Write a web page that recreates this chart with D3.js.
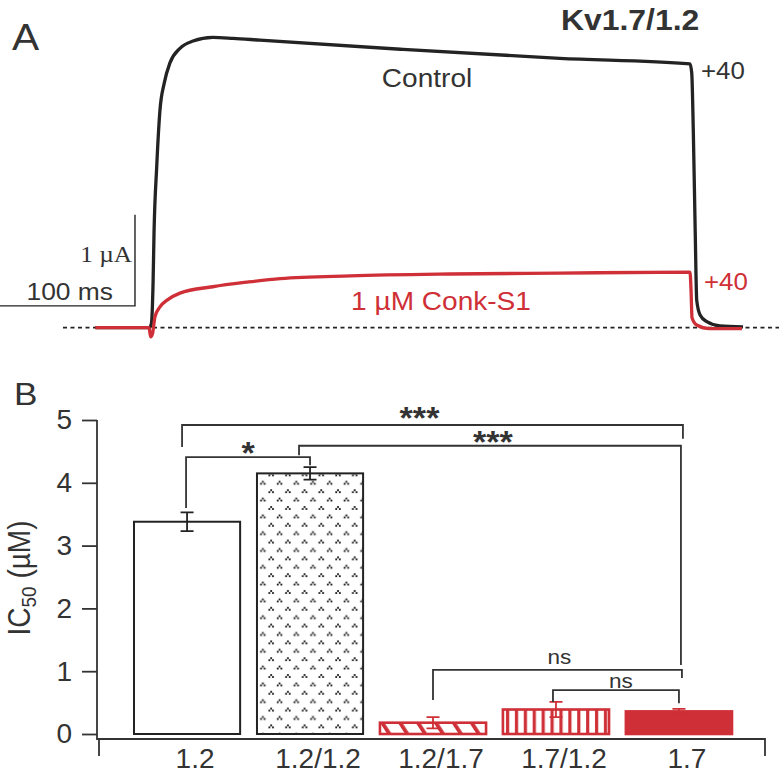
<!DOCTYPE html>
<html>
<head>
<meta charset="utf-8">
<script src="https://cdn.jsdelivr.net/npm/d3@7"></script>
<style>
    html, body { margin: 0; padding: 0; background: #fff; }
    svg { display: block; font-family: "Liberation Sans", Arial, Helvetica, sans-serif; }
</style>
</head>
<body>
<svg id="chart" width="779" height="778"></svg>
<script>
// Panel A: current traces at +40 mV, [time (ms), current (uA)]
var controlTrace = [
    [-42, 0], [-2, 0], [-0.5, 0.04], [0.8, 0.5], [1.5, 1.04], [3.5, 1.77], [5.9, 2.39],
    [9.1, 2.69], [13.3, 2.91], [20.7, 3.07], [30.4, 3.15], [45, 3.19], [60, 3.18],
    [80, 3.16], [184, 3.06], [302, 2.96], [398.5, 2.90], [399.8, 2.80], [401, 2.14],
    [402.4, 1.04], [403.5, 0.30], [406, 0.14], [411, 0.066], [420.7, 0.019], [437.8, 0.008]
];
var conkTrace = [
    [-42, 0], [-2.2, 0], [-1, -0.1], [0.3, -0.07], [2.2, 0.12], [5.9, 0.23], [10.9, 0.30],
    [20.7, 0.38], [45, 0.45], [70, 0.50], [95, 0.54], [147, 0.57], [221, 0.59],
    [302, 0.60], [398.5, 0.61], [399.3, 0.41], [400, 0.11], [403.5, 0.03], [413, -0.01],
    [437, -0.01]
];

// Panel B: IC50 of Conk-S1 for each construct (uM, mean and SEM)
var constructs = ['1.2', '1.2/1.2', '1.2/1.7', '1.7/1.2', '1.7'];
var ic50 = [3.38, 4.15, 0.18, 0.39, 0.36];
var sem = [0.15, 0.10, 0.09, 0.12, 0.04];
var yTicks = [0, 1, 2, 3, 4, 5];

// Significance comparisons [from, to, label]
var comparisons = [
    ['1.2', '1.7', '***'],
    ['1.2/1.2', '1.7', '***'],
    ['1.2', '1.2/1.2', '*'],
    ['1.2/1.7', '1.7', 'ns'],
    ['1.7/1.2', '1.7', 'ns']
];

var RED = '#cf2f37',
    INK = '#333',
    TRACE_BLACK = '#232323',
    SX = 1.1; // the figure is a bit wider than tall, text too

// bracket geometry, in uM along the y scale
var BRACKET_LAYOUT = [
    { level: 4.92, ends: [4.57, 4.70], dx: [-5, 4], labelDx: -13, labelGap: 11 },
    { level: 4.59, ends: [4.44, 1.10], dx: [-11, 2], labelDx: 3, labelGap: 8 },
    { level: 4.41, ends: [3.60, 4.28], dx: [-1, 0], labelDx: 0, labelGap: 8 },
    { level: 1.02, ends: [0.54, 0.89], dx: [0, 3], labelDx: 2, labelGap: 6 },
    { level: 0.70, ends: [0.51, 0.49], dx: [-3, 0], labelDx: 5, labelGap: 2 }
];

var svg = d3.select('#chart');

function stretchText(parent, x, y, txt) {
    return parent.append('text')
        .attr('transform', 'translate(' + x + ',' + y + ') scale(' + SX + ',1)')
        .text(txt);
}

// ---------- Panel A ----------
var xT = d3.scaleLinear().domain([0, 100]).range([152, 287]);
var yT = d3.scaleLinear().domain([0, 1]).range([327.7, 236.7]);

var panelA = svg.append('g');

stretchText(panelA, 12, 50, 'A')
    .attr('font-size', 37).attr('fill', INK);

stretchText(panelA, 561, 30, 'Kv1.7/1.2')
    .attr('font-size', 29).attr('font-weight', 'bold').attr('fill', INK);

// zero-current line
panelA.append('line')
    .attr('x1', 63).attr('x2', 779)
    .attr('y1', yT(0)).attr('y2', yT(0))
    .attr('stroke', '#222').attr('stroke-width', 1.7)
    .attr('stroke-dasharray', '4,3.5');

// scale bars: 100 ms and 1 uA
var barCorner = { x: xT(-12.6), y: yT(0.24) };
panelA.append('path')
    .attr('d', 'M' + (barCorner.x - (xT(100) - xT(0))) + ',' + barCorner.y +
        'H' + barCorner.x + 'V' + (barCorner.y - (yT(0) - yT(1))))
    .attr('fill', 'none').attr('stroke', '#222').attr('stroke-width', 1.4);

stretchText(panelA, barCorner.x - 3, 261.5, '1 \u00b5A')
    .attr('font-family', '"Liberation Serif", "Times New Roman", serif')
    .attr('font-size', 23).attr('text-anchor', 'end').attr('fill', INK);

stretchText(panelA, 113, 300, '100 ms')
    .attr('font-size', 24).attr('text-anchor', 'end').attr('fill', INK);

var traceLine = d3.line()
    .x(function(d) { return xT(d[0]); })
    .y(function(d) { return yT(d[1]); })
    .curve(d3.curveMonotoneX);

panelA.append('path')
    .datum(controlTrace)
    .attr('d', traceLine)
    .attr('fill', 'none').attr('stroke', TRACE_BLACK)
    .attr('stroke-width', 3.3).attr('stroke-linejoin', 'round');

panelA.append('path')
    .datum(conkTrace)
    .attr('d', traceLine)
    .attr('fill', 'none').attr('stroke', RED)
    .attr('stroke-width', 3.3).attr('stroke-linejoin', 'round');

stretchText(panelA, 427, 87.3, 'Control')
    .attr('font-size', 25.5).attr('text-anchor', 'middle').attr('fill', INK);
stretchText(panelA, 701, 79.3, '+40')
    .attr('font-size', 23.5).attr('fill', INK);
stretchText(panelA, 704, 290, '+40')
    .attr('font-size', 23.5).attr('fill', RED);
stretchText(panelA, 441, 309.5, '1 \u00b5M Conk-S1')
    .attr('font-size', 25.5).attr('text-anchor', 'middle').attr('fill', RED);

// ---------- Panel B ----------
var x = d3.scaleBand().domain(constructs).range([134, 732]).paddingInner(0.137).paddingOuter(0);
var y = d3.scaleLinear().domain([0, 5]).range([734, 420]);

var panelB = svg.append('g');

stretchText(panelB, 14, 405, 'B')
    .attr('font-size', 32).attr('fill', INK);

// patterns for the bar fills
var defs = svg.append('defs');

var dots = defs.append('pattern')
    .attr('id', 'carets').attr('patternUnits', 'userSpaceOnUse')
    .attr('width', 16.7).attr('height', 16.8);
dots.append('rect').attr('width', 16.7).attr('height', 16.8).attr('fill', '#fff');
[[4, 4], [12.35, 12.4]].forEach(function(p) {
    [[-1.8, 1], [0, -1], [1.8, 1]].forEach(function(o) {
        dots.append('rect')
            .attr('x', p[0] + o[0] - 0.9).attr('y', p[1] + o[1] - 0.9)
            .attr('width', 1.8).attr('height', 1.8).attr('fill', '#111');
    });
});

var diag = defs.append('pattern')
    .attr('id', 'diag').attr('patternUnits', 'userSpaceOnUse')
    .attr('width', 15).attr('height', 15)
    .attr('patternTransform', 'rotate(-33)');
diag.append('rect').attr('width', 15).attr('height', 15).attr('fill', '#fff');
diag.append('rect').attr('width', 3.8).attr('height', 15).attr('fill', RED);

var vstripe = defs.append('pattern')
    .attr('id', 'vstripe').attr('patternUnits', 'userSpaceOnUse')
    .attr('width', 8.9).attr('height', 10).attr('x', 502);
vstripe.append('rect').attr('width', 8.9).attr('height', 10).attr('fill', '#fff');
vstripe.append('rect').attr('x', 4).attr('width', 3.2).attr('height', 10).attr('fill', RED);

var barFill = ['#fff', 'url(#carets)', 'url(#diag)', 'url(#vstripe)', RED];
var barStroke = ['#222', '#222', RED, RED, RED];

panelB.selectAll('rect.bar')
    .data(constructs)
    .enter()
    .append('rect')
    .classed('bar', true)
    .attr('x', function(d) { return x(d); })
    .attr('width', x.bandwidth())
    .attr('y', function(d, i) { return y(ic50[i]); })
    .attr('height', function(d, i) { return y(0) - y(ic50[i]); })
    .attr('fill', function(d, i) { return barFill[i]; })
    .attr('stroke', function(d, i) { return barStroke[i]; })
    .attr('stroke-width', function(d, i) { return i < 2 ? 2 : 2.6; });

// error bars
var capHalf = 6.5;
var errors = panelB.selectAll('g.err')
    .data(constructs)
    .enter()
    .append('g')
    .classed('err', true)
    .attr('stroke', function(d, i) { return i < 2 ? '#222' : RED; })
    .attr('stroke-width', 1.8);

errors.append('path')
    .attr('d', function(d, i) {
        var cx = x(d) + x.bandwidth() / 2,
            hi = y(ic50[i] + sem[i]),
            lo = y(ic50[i] - sem[i]);
        return 'M' + cx + ',' + hi + 'V' + lo +
            'M' + (cx - capHalf) + ',' + hi + 'H' + (cx + capHalf) +
            'M' + (cx - capHalf) + ',' + lo + 'H' + (cx + capHalf);
    })
    .attr('fill', 'none');

// axes
var yAxis = panelB.append('g')
    .attr('transform', 'translate(97,0)')
    .call(d3.axisLeft(y).tickValues(yTicks).tickSize(15).tickPadding(10).tickFormat(d3.format('d')));
yAxis.select('.domain').remove();
yAxis.selectAll('line').attr('stroke', INK).attr('stroke-width', 1.8);
yAxis.selectAll('text')
    .attr('font-size', 28)
    .attr('font-family', '"Liberation Sans", Arial, sans-serif')
    .attr('fill', INK);

panelB.append('path')
    .attr('d', 'M97,' + y(5) + 'V739H765V756M99,739V756')
    .attr('fill', 'none').attr('stroke', INK).attr('stroke-width', 1.8);

panelB.selectAll('text.cat')
    .data(constructs)
    .enter()
    .append('text')
    .classed('cat', true)
    .attr('x', function(d) { return x(d) + x.bandwidth() / 2 + 8; })
    .attr('y', 768)
    .attr('text-anchor', 'middle')
    .attr('font-size', 28)
    .attr('fill', INK)
    .text(function(d) { return d; });

// y axis title: IC50 (uM)
var yTitle = panelB.append('text')
    .attr('transform', 'translate(30,578) scale(' + SX + ',1) rotate(-90)')
    .attr('text-anchor', 'middle')
    .attr('font-size', 28)
    .attr('fill', INK);
yTitle.append('tspan').text('IC');
yTitle.append('tspan').attr('font-size', 19).attr('dy', 5).text('50');
yTitle.append('tspan').attr('dy', -5).text(' (\u00b5M)');

// significance brackets
comparisons.forEach(function(c, i) {
    var lay = BRACKET_LAYOUT[i],
        x1 = x(c[0]) + x.bandwidth() / 2 + lay.dx[0],
        x2 = x(c[1]) + x.bandwidth() / 2 + lay.dx[1],
        ly = y(lay.level);

    panelB.append('path')
        .attr('d', 'M' + x1 + ',' + y(lay.ends[0]) + 'V' + ly + 'H' + x2 + 'V' + y(lay.ends[1]))
        .attr('fill', 'none').attr('stroke', INK).attr('stroke-width', 1.8);

    var isStar = c[2] !== 'ns';
    var t = stretchText(panelB, (x1 + x2) / 2 + lay.labelDx,
            isStar ? ly - lay.labelGap + 15 : ly - lay.labelGap, c[2])
        .attr('text-anchor', 'middle')
        .attr('fill', INK);
    if (isStar) {
        t.attr('font-size', 31).attr('font-weight', 'bold');
    } else {
        t.attr('font-size', 20.5);
    }
});
</script>
</body>
</html>
